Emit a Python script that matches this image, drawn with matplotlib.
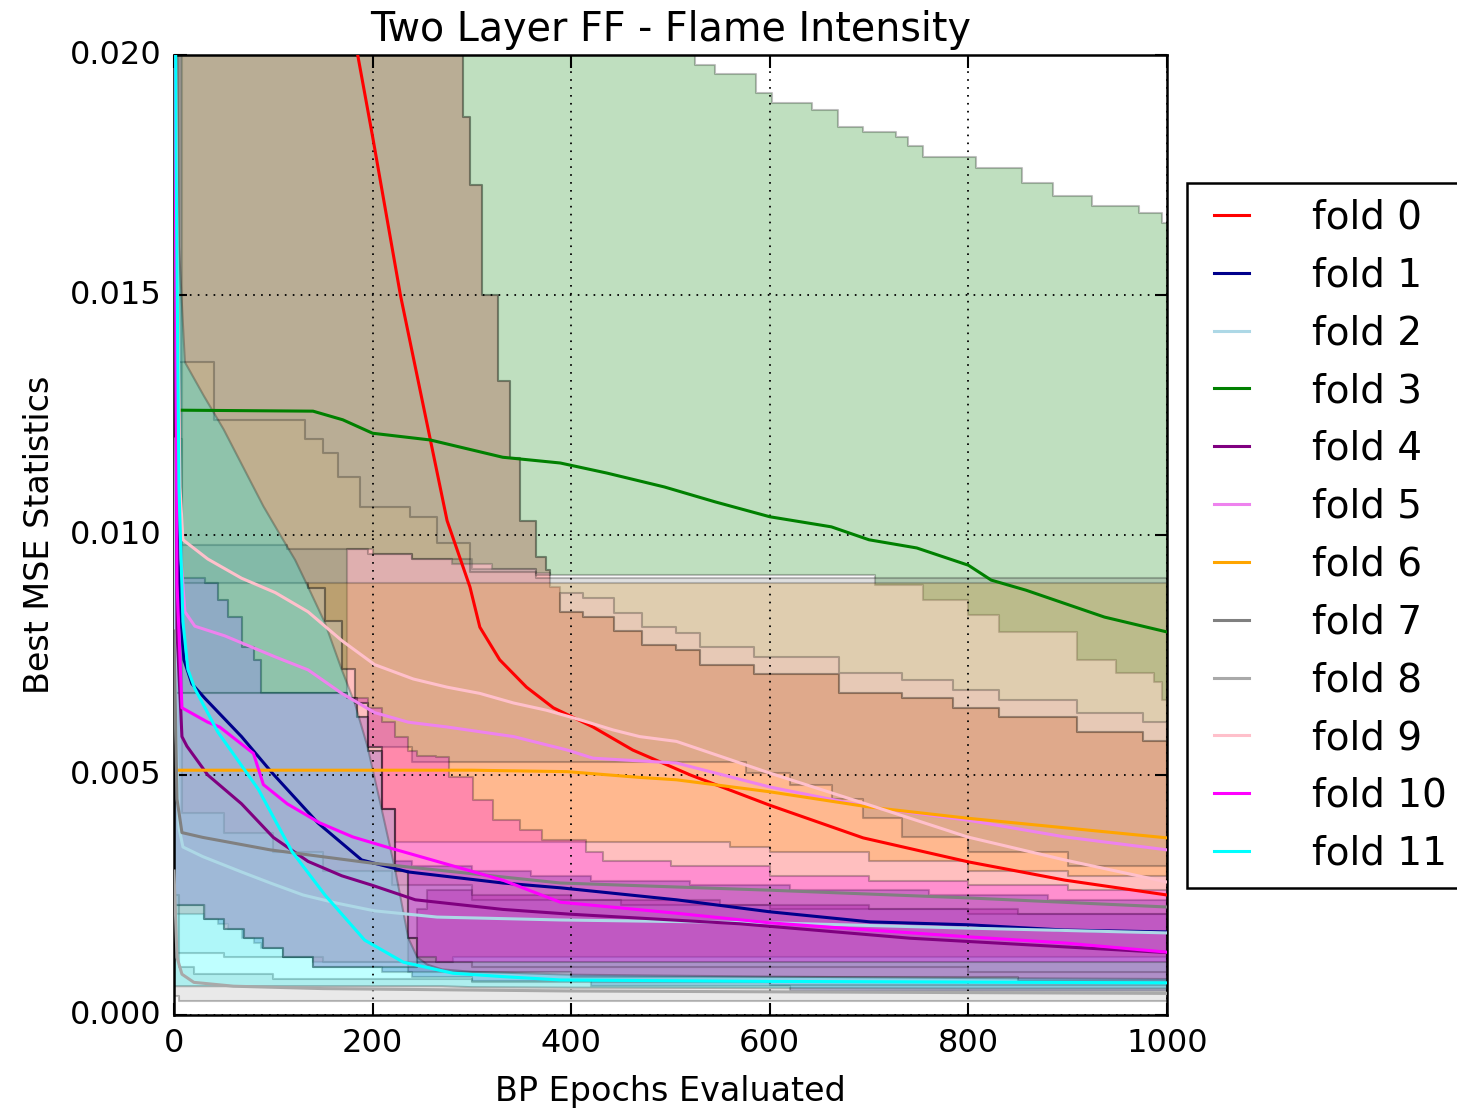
import matplotlib
matplotlib.use("Agg")
import matplotlib.pyplot as plt
from matplotlib.ticker import FormatStrFormatter, MultipleLocator

plt.style.use("classic")
plt.rcParams["font.family"] = ["DejaVu Sans"]

# ---- data ----
COLORS = ["red", "darkblue", "lightblue", "green", "purple", "violet",
          "orange", "gray", "darkgray", "pink", "magenta", "cyan"]
LABELS = ["fold %d" % i for i in range(12)]

# mean lines
F0_X = [0, 170, 185, 200, 228, 258, 275, 298, 308, 328, 355, 382, 422, 462, 520, 600, 694, 800, 897, 1000]
F0_Y = [0.06, 0.0217, 0.020, 0.0183, 0.0150, 0.0120, 0.0103, 0.00892, 0.00808, 0.0074, 0.00683, 0.0064,
        0.0060, 0.00552, 0.0050, 0.00437, 0.00369, 0.00319, 0.00281, 0.0025]
F1_X = [0, 3, 6, 10, 18, 31, 68, 99, 145, 189, 236, 331, 389, 506, 600, 701, 799, 897, 1000]
F1_Y = [0.022, 0.012, 0.0085, 0.0074, 0.0069, 0.0066, 0.0058, 0.00504, 0.0040, 0.00323, 0.00298, 0.00275,
        0.00265, 0.0024, 0.00215, 0.00194, 0.00188, 0.00177, 0.00173]
F2_X = [0, 2, 5, 9, 29, 68, 97, 130, 164, 202, 265, 389, 600, 799, 1000]
F2_Y = [0.012, 0.006, 0.0039, 0.0035, 0.0033, 0.00298, 0.00275, 0.0025, 0.00233, 0.00217, 0.00204,
        0.00198, 0.00192, 0.00181, 0.00171]
F3_X = [8, 140, 170, 200, 258, 331, 389, 436, 494, 545, 600, 662, 700, 748, 800, 823, 858, 937, 1000]
F3_Y = [0.0126, 0.01258, 0.0124, 0.01212, 0.01198, 0.01162, 0.0115, 0.01129, 0.0110, 0.01069, 0.01038,
        0.01017, 0.0099, 0.00973, 0.00937, 0.00906, 0.00885, 0.00829, 0.00798]
F4_X = [0, 3, 8, 13, 34, 68, 100, 135, 169, 200, 243, 331, 399, 570, 741, 1000]
F4_Y = [0.02, 0.008, 0.0058, 0.0056, 0.0050, 0.0044, 0.0037, 0.0032, 0.0029, 0.0027, 0.0024, 0.0022,
        0.0021, 0.0019, 0.0016, 0.0013]
F5_X = [0, 3, 7, 11, 21, 51, 102, 135, 169, 202, 236, 275, 342, 396, 422, 506, 600, 701, 799, 897, 1000]
F5_Y = [0.022, 0.013, 0.0095, 0.0084, 0.0081, 0.0079, 0.00746, 0.00719, 0.0067, 0.0063, 0.0061, 0.0060,
        0.0058, 0.00552, 0.00535, 0.00525, 0.00475, 0.00433, 0.00406, 0.00371, 0.00344]
F6_X = [5, 300, 396, 469, 506, 600, 701, 799, 897, 1000]
F6_Y = [0.0051, 0.0051, 0.00507, 0.00495, 0.0049, 0.00465, 0.00433, 0.0041, 0.0039, 0.00369]
F7_X = [0, 3, 8, 29, 97, 197, 265, 389, 600, 799, 1000]
F7_Y = [0.008, 0.0045, 0.0038, 0.0037, 0.00344, 0.00317, 0.00302, 0.00275, 0.0026, 0.00244, 0.00225]
F8_X = [0, 3, 8, 20, 60, 150, 400, 1000]
F8_Y = [0.003, 0.0012, 0.00085, 0.00068, 0.0006, 0.00055, 0.0005, 0.00045]
F9_X = [0, 3, 6, 9, 34, 68, 102, 135, 169, 202, 241, 275, 308, 342, 375, 409, 442, 469, 506, 600,
        701, 799, 897, 1000]
F9_Y = [0.024, 0.016, 0.011, 0.0099, 0.0095, 0.0091, 0.0088, 0.0084, 0.0078, 0.0073, 0.0070, 0.00683,
        0.0067, 0.0065, 0.00635, 0.00615, 0.00594, 0.0058, 0.0057, 0.00504, 0.00437, 0.00371, 0.00323, 0.00277]
F10_X = [0, 3, 8, 34, 46, 80, 90, 114, 147, 180, 214, 265, 331, 389, 506, 600, 701, 799, 897, 1000]
F10_Y = [0.025, 0.009, 0.0064, 0.0061, 0.0060, 0.00545, 0.0048, 0.0044, 0.0040, 0.00371, 0.0035, 0.0032,
         0.00281, 0.00235, 0.00212, 0.00192, 0.00177, 0.00163, 0.0015, 0.00131]
F11_X = [0, 2, 5, 9, 14, 21, 44, 85, 119, 152, 192, 231, 281, 331, 389, 600, 1000]
F11_Y = [0.03, 0.018, 0.011, 0.0082, 0.0072, 0.0068, 0.0059, 0.0047, 0.0034, 0.0025, 0.00156, 0.0011,
         0.00087, 0.0008, 0.00073, 0.0007, 0.00067]

# shaded min / max bands
B0_X = [0, 30, 50, 70, 90, 110, 140, 281, 291, 298, 310, 326, 338, 348, 365, 375, 379, 389, 412,
        443, 471, 506, 530, 584, 670, 733, 784, 831, 909, 976, 1000]
B0_HI = [0.025, 0.025, 0.025, 0.025, 0.025, 0.025, 0.025, 0.0200, 0.0187, 0.0173, 0.0150, 0.0132,
         0.0116, 0.0103, 0.00954, 0.00927, 0.00892, 0.0084, 0.0083, 0.0080, 0.0077, 0.0076, 0.0073,
         0.0071, 0.0067, 0.0066, 0.0064, 0.0062, 0.0059, 0.0057, 0.0057]
B0_LO = [0.0021, 0.0020, 0.0018, 0.0016, 0.0014, 0.0012, 0.0011, 0.0012, 0.0012, 0.0012, 0.0012,
         0.0012, 0.0012, 0.0012, 0.0012, 0.0012, 0.0012, 0.0012, 0.0012, 0.0012, 0.0012, 0.0012,
         0.0012, 0.0012, 0.0012, 0.0012, 0.0012, 0.0012, 0.0012, 0.0012, 0.0012]
B1_X = [0, 8, 31, 44, 54, 68, 81, 88, 110, 140, 174, 184, 195, 209, 223, 240, 300, 360, 420, 520,
        620, 760, 880, 1000]
B1_HI = [0.020, 0.0091, 0.0090, 0.00865, 0.0083, 0.00767, 0.0074, 0.0067, 0.0067, 0.0067, 0.0066,
         0.0062, 0.0055, 0.0043, 0.0032, 0.0031, 0.0030, 0.0029, 0.0028, 0.0027, 0.0026, 0.0025,
         0.0024, 0.0023]
B1_LO = [0.0023, 0.0023, 0.0020, 0.0019, 0.0018, 0.0016, 0.0015, 0.0014, 0.0012, 0.0010, 0.0010,
         0.0010, 0.0010, 0.0009, 0.0009, 0.0008, 0.0007, 0.0007, 0.0006, 0.0006, 0.0005, 0.0005,
         0.0005, 0.0005]
B2_X = [0, 8, 50, 100, 150, 220, 300, 450, 600, 800, 1000]
B2_HI = [0.012, 0.0042, 0.0038, 0.0034, 0.0030, 0.0027, 0.0024, 0.0023, 0.0022, 0.0021, 0.0021]
B2_LO = [0.0013, 0.0013, 0.0012, 0.0012, 0.0011, 0.0011, 0.0010, 0.0010, 0.0010, 0.0009, 0.0009]
B3_X = [0, 31, 44, 54, 68, 81, 88, 174, 200, 240, 280, 320, 365, 379, 525, 545, 586, 602, 643, 669,
        694, 706, 727, 739, 754, 800, 808, 831, 854, 885, 909, 924, 949, 972, 987, 995, 1000]
B3_HI = [0.025, 0.025, 0.025, 0.025, 0.025, 0.025, 0.025, 0.025, 0.025, 0.025, 0.025, 0.025, 0.025,
         0.025, 0.0198, 0.0196, 0.0192, 0.0190, 0.01885, 0.0185, 0.0184, 0.0184, 0.0183, 0.0181,
         0.01788, 0.01788, 0.01764, 0.01764, 0.01733, 0.01706, 0.01706, 0.01685, 0.01685, 0.0167,
         0.0167, 0.0165, 0.0165]
B3_LO = [0.0091, 0.0090, 0.00865, 0.0083, 0.00767, 0.0074, 0.0067, 0.0097, 0.0096, 0.0095, 0.0094,
         0.0093, 0.0092, 0.00917, 0.00917, 0.00917, 0.00917, 0.00917, 0.00917, 0.00917, 0.00917,
         0.00896, 0.00896, 0.00896, 0.00865, 0.00833, 0.00833, 0.00798, 0.00798, 0.00798, 0.0074,
         0.0074, 0.00712, 0.00712, 0.00694, 0.00656, 0.00656]
B4_X = [236, 245, 255, 300, 400, 550, 700, 850, 1000]
B4_HI = [0.0016, 0.0022, 0.0026, 0.0025, 0.0024, 0.0023, 0.0022, 0.0021, 0.0020]
B4_LO = [0.0009, 0.0009, 0.0009, 0.0009, 0.0008, 0.0008, 0.0008, 0.0007, 0.0007]
B5_X = [0, 8, 30, 50, 70, 90, 110, 140, 174, 184, 195, 209, 223, 236, 245]
B5_HI = [0.0067, 0.0067, 0.0067, 0.0067, 0.0067, 0.0067, 0.0067, 0.0067, 0.0066, 0.0062, 0.0055,
         0.0043, 0.0030, 0.0016, 0.0011]
B5_LO = [0.0023, 0.0023, 0.0020, 0.0018, 0.0016, 0.0014, 0.0012, 0.0010, 0.0010, 0.0010, 0.0010,
         0.0010, 0.0010, 0.0010, 0.0010]
B6_X = [135, 152, 169, 182, 195, 209, 223, 560, 600, 700, 800, 900, 1000]
B6_HI = [0.0090, 0.0090, 0.0090, 0.0090, 0.0090, 0.0090, 0.0090, 0.0090, 0.0090, 0.0090, 0.0090,
         0.0090, 0.0090]
B6_LO = [0.0089, 0.0082, 0.0072, 0.0065, 0.00558, 0.0043, 0.0036, 0.0035, 0.0034, 0.0032, 0.0030,
         0.0029, 0.0028]
B7_X = [0, 114, 135, 152, 169, 182, 195, 240, 300, 365, 576, 620, 663, 694, 733, 800, 900, 1000]
B7_HI = [0.0098, 0.0097, 0.0097, 0.0097, 0.0097, 0.0097, 0.0096, 0.0095, 0.0093, 0.0091, 0.0091,
         0.0091, 0.0091, 0.0091, 0.0091, 0.0091, 0.0091, 0.0091]
B7_LO = [0.0090, 0.0090, 0.0089, 0.0082, 0.0072, 0.0065, 0.00558, 0.00527, 0.00527, 0.00527,
         0.00505, 0.0048, 0.0045, 0.0041, 0.0037, 0.0034, 0.0031, 0.0029]
B8_X = [0, 5, 20, 100, 300, 600, 1000]
B8_HI = [0.0025, 0.0010, 0.00085, 0.00075, 0.00068, 0.00062, 0.0006]
B8_LO = [0.0004, 0.0003, 0.0003, 0.0003, 0.0003, 0.0003, 0.0003]
B8U_X = [0, 40, 132, 150, 165, 187, 238, 265, 281, 291, 298, 310, 326, 338, 348, 365, 375, 379]
B8U_HI = [0.025, 0.025, 0.025, 0.025, 0.025, 0.025, 0.025, 0.025, 0.0200, 0.0187, 0.0173, 0.0150,
          0.0132, 0.0116, 0.0103, 0.00954, 0.00927, 0.00917]
B8U_LO = [0.0136, 0.0124, 0.0120, 0.0117, 0.0112, 0.01058, 0.01037, 0.00983, 0.00983, 0.00983,
          0.00923, 0.00923, 0.00923, 0.00923, 0.00923, 0.00917, 0.00917, 0.00917]
B9_X = [389, 412, 443, 471, 506, 530, 584, 670, 733, 784, 831, 909, 976, 1000]
B9_HI = [0.00879, 0.00869, 0.00837, 0.00808, 0.00796, 0.00767, 0.00746, 0.00712, 0.00698, 0.00677,
         0.00656, 0.00629, 0.0061, 0.00604]
B9_LO = [0.0084, 0.0083, 0.0080, 0.0077, 0.0076, 0.0073, 0.0071, 0.0067, 0.0066, 0.0064, 0.0062,
         0.0059, 0.0057, 0.0057]
B9L_X = [0, 8, 30, 50, 70, 90, 110, 140, 174, 184, 195, 209, 223, 236, 245]
B9L_HI = [0.0067, 0.0067, 0.0067, 0.0067, 0.0067, 0.0067, 0.0067, 0.0067, 0.0066, 0.0062, 0.0055,
          0.0043, 0.0030, 0.0016, 0.0011]
B9L_LO = [0.0023, 0.0023, 0.0020, 0.0018, 0.0016, 0.0014, 0.0012, 0.0010, 0.0010, 0.0010, 0.0010,
          0.0010, 0.0010, 0.0010, 0.0010]
B10_X = [182, 195, 209, 223, 236, 245, 264, 277, 301, 321, 348, 371, 415, 432, 500, 600, 700, 800,
         900, 1000]
B10_HI = [0.0066, 0.0064, 0.0061, 0.0058, 0.0055, 0.0054, 0.00538, 0.00496, 0.00448, 0.00406,
          0.00385, 0.00365, 0.0034, 0.0032, 0.0031, 0.0029, 0.0028, 0.0027, 0.0026, 0.0025]
B10_LO = [0.0065, 0.00558, 0.0043, 0.0030, 0.0016, 0.0012, 0.0011, 0.0011, 0.0011, 0.0011, 0.0011,
          0.0011, 0.0011, 0.0011, 0.0011, 0.0011, 0.0011, 0.0011, 0.0011, 0.0011]
B11_X = [0, 5, 11, 30, 50, 70, 90, 107, 122, 135, 152, 169, 182, 195, 209, 223, 236, 245, 255, 270,
         300, 400, 600, 800, 1000]
B11_HI = [0.030, 0.016, 0.0136, 0.0129, 0.0122, 0.0114, 0.0106, 0.0100, 0.00948, 0.00892, 0.00817,
          0.00719, 0.0065, 0.00558, 0.0043, 0.0030, 0.0016, 0.0012, 0.00105, 0.00095, 0.0009,
          0.00084, 0.0008, 0.00077, 0.00075]
B11_LO = [0.0006, 0.0006, 0.0006, 0.0006, 0.0006, 0.0006, 0.0006, 0.0006, 0.0006, 0.0006, 0.0006,
          0.0006, 0.0006, 0.0006, 0.0006, 0.0006, 0.0006, 0.0006, 0.0006, 0.0006, 0.00058, 0.00057,
          0.00056, 0.00055, 0.00055]

lines = [(F0_X, F0_Y), (F1_X, F1_Y), (F2_X, F2_Y), (F3_X, F3_Y), (F4_X, F4_Y), (F5_X, F5_Y),
         (F6_X, F6_Y), (F7_X, F7_Y), (F8_X, F8_Y), (F9_X, F9_Y), (F10_X, F10_Y), (F11_X, F11_Y)]
# (fold, x, low, high) - folds 8 and 9 have two shaded pieces
bands = [(0, B0_X, B0_LO, B0_HI), (1, B1_X, B1_LO, B1_HI), (2, B2_X, B2_LO, B2_HI),
         (3, B3_X, B3_LO, B3_HI), (4, B4_X, B4_LO, B4_HI), (5, B5_X, B5_LO, B5_HI),
         (6, B6_X, B6_LO, B6_HI), (7, B7_X, B7_LO, B7_HI), (8, B8_X, B8_LO, B8_HI),
         (8, B8U_X, B8U_LO, B8U_HI), (9, B9_X, B9_LO, B9_HI), (9, B9L_X, B9L_LO, B9L_HI),
         (10, B10_X, B10_LO, B10_HI), (11, B11_X, B11_LO, B11_HI)]

fig = plt.figure(figsize=(14.57, 11.11), dpi=100, facecolor="white")
ax = fig.add_axes([174 / 1457, 1 - 1015 / 1111, 993 / 1457, 960 / 1111])

for fold, bx, lo, hi in bands:
    step = None if fold == 11 else "post"  # cyan band edge is smooth
    ax.fill_between(bx, lo, hi, step=step, facecolor=COLORS[fold], edgecolor="k",
                    alpha=0.25, linewidth=1.5, zorder=1)

for i, (x, y) in enumerate(lines):
    ax.plot(x, y, color=COLORS[i], lw=2.2, label=LABELS[i], zorder=3)

ax.set_xlim(0, 1000)
ax.set_ylim(0, 0.020)
ax.xaxis.set_major_locator(MultipleLocator(200))
ax.yaxis.set_major_locator(MultipleLocator(0.005))
ax.yaxis.set_major_formatter(FormatStrFormatter("%.3f"))
ax.grid(True, color="k", linestyle=(0, (1.2, 4.5)), linewidth=1.3, zorder=2)
ax.set_axisbelow(False)
ax.tick_params(which="major", direction="in", length=9, width=1.5, labelsize=23, pad=9,
               top=True, right=True)
ax.tick_params(which="minor", length=0)
for s in ax.spines.values():
    s.set_linewidth(1.8)

ax.set_title("Two Layer FF - Flame Intensity", fontsize=28.5, pad=10)
ax.set_xlabel("BP Epochs Evaluated", fontsize=24, labelpad=12)
ax.set_ylabel("Best MSE Statistics", fontsize=24, labelpad=10)

leg = ax.legend(loc="upper left", bbox_to_anchor=(1.0202, 0.8667), borderaxespad=0,
                fontsize=28, handlelength=1.5, handletextpad=1.3, labelspacing=0.51,
                borderpad=0.4, fancybox=False, frameon=True)
leg.get_frame().set_linewidth(1.8)
leg.get_frame().set_edgecolor("k")
for h in leg.get_lines():
    h.set_linewidth(2.2)

fig.savefig("out.png", dpi=100, facecolor="white")
